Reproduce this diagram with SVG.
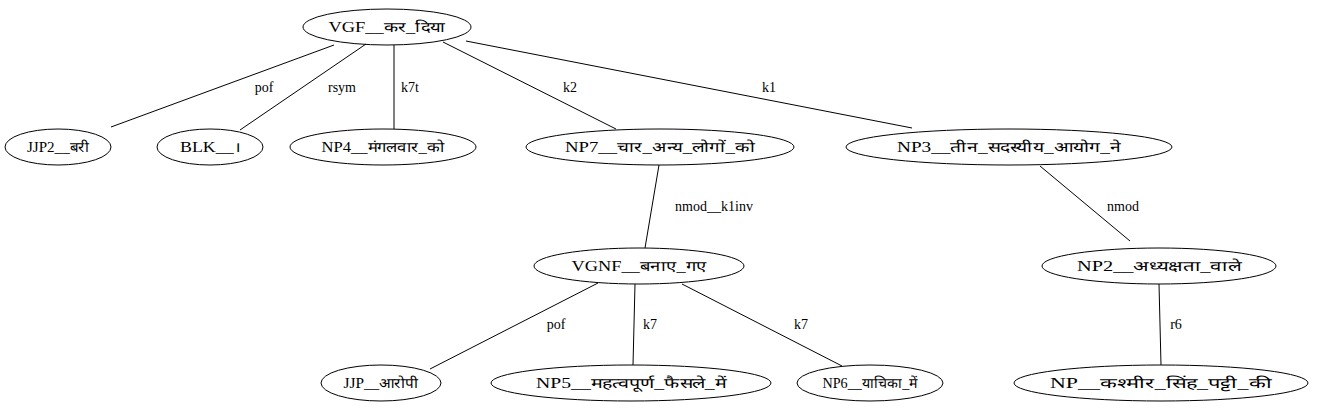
<svg xmlns="http://www.w3.org/2000/svg" width="1317" height="411" viewBox="0 0 1317 411">
<style>
.n ellipse{fill:none;stroke:#000;stroke-width:1}
text{font-family:'Liberation Serif','Times New Roman',Times,serif;font-size:14px;fill:#000;text-anchor:middle}
#edges line{stroke:#000;stroke-width:1}
</style>
<rect width="1317" height="411" fill="#fff"/>
<g font-family="Liberation Serif, Times New Roman, serif">
<g id="edges">
<line x1="334" y1="45" x2="111" y2="127"/>
<line x1="366" y1="44" x2="240" y2="130"/>
<line x1="394" y1="45" x2="394" y2="129"/>
<line x1="443" y1="42" x2="616" y2="129"/>
<line x1="466" y1="41" x2="912" y2="128"/>
<line x1="659" y1="165" x2="645" y2="248"/>
<line x1="1040" y1="166" x2="1130" y2="241"/>
<line x1="598" y1="283" x2="430" y2="369"/>
<line x1="635" y1="284" x2="633" y2="365"/>
<line x1="682" y1="284" x2="842" y2="366"/>
<line x1="1159" y1="284" x2="1161" y2="365"/>
<text x="264" y="92">pof</text>
<text x="342" y="92">rsym</text>
<text x="410" y="92">k7t</text>
<text x="570" y="92">k2</text>
<text x="769" y="92">k1</text>
<text x="714" y="211">nmod__k1inv</text>
<text x="1123" y="211">nmod</text>
<text x="556" y="329">pof</text>
<text x="650" y="329">k7</text>
<text x="801" y="329">k7</text>
<text x="1176" y="329">r6</text>
</g>
<g id="n_vgf" class="n"><ellipse cx="387" cy="27" rx="84" ry="18"/><text x="387" y="32" textLength="117" lengthAdjust="spacingAndGlyphs">VGF__कर_दिया</text></g>
<g id="n_jjp2" class="n"><ellipse cx="58" cy="147" rx="53" ry="18"/><text x="58" y="152" textLength="62" lengthAdjust="spacingAndGlyphs">JJP2__बरी</text></g>
<g id="n_blk" class="n"><ellipse cx="210" cy="147" rx="53" ry="18"/><text x="210" y="152" textLength="60" lengthAdjust="spacingAndGlyphs">BLK__।</text></g>
<g id="n_np4" class="n"><ellipse cx="383" cy="147" rx="93" ry="18"/><text x="383" y="152" textLength="123" lengthAdjust="spacingAndGlyphs">NP4__मंगलवार_को</text></g>
<g id="n_np7" class="n"><ellipse cx="660" cy="147" rx="134" ry="18"/><text x="660" y="152" textLength="190" lengthAdjust="spacingAndGlyphs">NP7__चार_अन्य_लोगों_को</text></g>
<g id="n_np3" class="n"><ellipse cx="1009" cy="147" rx="163" ry="18"/><text x="1009" y="152" textLength="224" lengthAdjust="spacingAndGlyphs">NP3__तीन_सदस्यीय_आयोग_ने</text></g>
<g id="n_vgnf" class="n"><ellipse cx="639" cy="266" rx="105" ry="18"/><text x="639" y="271" textLength="135" lengthAdjust="spacingAndGlyphs">VGNF__बनाए_गए</text></g>
<g id="n_np2" class="n"><ellipse cx="1159" cy="266" rx="117" ry="18"/><text x="1159" y="271" textLength="164" lengthAdjust="spacingAndGlyphs">NP2__अध्यक्षता_वाले</text></g>
<g id="n_jjp" class="n"><ellipse cx="381" cy="383" rx="60" ry="18"/><text x="381" y="388" textLength="75" lengthAdjust="spacingAndGlyphs">JJP__आरोपी</text></g>
<g id="n_np5" class="n"><ellipse cx="631" cy="383" rx="140" ry="18"/><text x="631" y="388" textLength="190" lengthAdjust="spacingAndGlyphs">NP5__महत्वपूर्ण_फैसले_में</text></g>
<g id="n_np6" class="n"><ellipse cx="870" cy="383" rx="73" ry="18"/><text x="870" y="388" textLength="95" lengthAdjust="spacingAndGlyphs">NP6__याचिका_में</text></g>
<g id="n_np" class="n"><ellipse cx="1161" cy="383" rx="147" ry="18"/><text x="1161" y="388" textLength="222" lengthAdjust="spacingAndGlyphs">NP__कश्मीर_सिंह_पट्टी_की</text></g>
</g>
</svg>
